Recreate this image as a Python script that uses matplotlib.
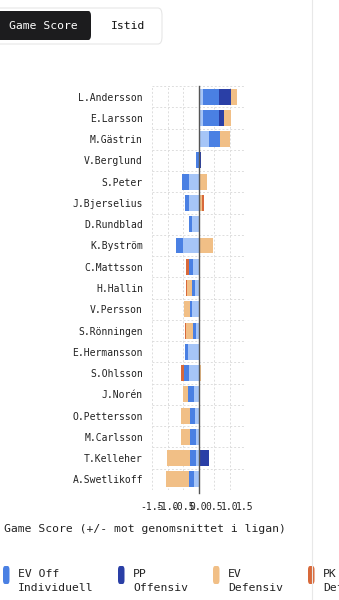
import numpy as np
import matplotlib.pyplot as plt
from matplotlib.patches import FancyBboxPatch

# players, top to bottom
players=["L.Andersson","E.Larsson","M.Gästrin","V.Berglund","S.Peter","J.Bjerselius",
         "D.Rundblad","K.Byström","C.Mattsson","H.Hallin","V.Persson","S.Rönningen",
         "E.Hermansson","S.Ohlsson","J.Norén","O.Pettersson","M.Carlsson","T.Kelleher",
         "A.Swetlikoff"]

# game score components (+/- vs league average)
ev_off_koll=[0.15,0.15,0.34,0.0,-0.30,-0.30,-0.22,-0.50,-0.17,-0.11,-0.20,-0.07,-0.33,-0.30,-0.16,-0.12,-0.07,-0.09,-0.15]
ev_off_ind=[0.51,0.51,0.36,-0.07,-0.24,-0.15,-0.10,-0.24,-0.15,-0.11,-0.09,-0.11,-0.11,-0.17,-0.17,-0.17,-0.22,-0.20,-0.15]
pp_off=[0.39,0.16,0.0,0.07,0.0,0.0,0.0,0.0,0.0,0.0,0.0,0.0,0.0,0.0,0.0,0.0,0.0,0.35,0.0]
ev_def=[0.20,0.22,0.33,0.0,0.29,0.11,0.02,0.46,0.0,-0.16,-0.17,-0.22,0.0,0.07,-0.18,-0.27,-0.28,-0.72,-0.76]
pk_def=[0.0,0.0,0.0,0.0,0.0,0.06,0.0,0.0,-0.09,-0.03,0.02,-0.02,0.0,-0.09,0.02,0.02,0.0,0.0,0.0]

series=[("EV Off Kollektiv",ev_off_koll,"#a6c5f7"),
        ("EV Off Individuell",ev_off_ind,"#4a80e3"),
        ("PP Offensiv",pp_off,"#2a3fa6"),
        ("EV Defensiv",ev_def,"#f1bf86"),
        ("PK Defensiv",pk_def,"#d8693a")]
legend_items=["EV Off\nIndividuell","PP\nOffensiv","EV\nDefensiv","PK\nDefensiv"]
legend_cols=["#4a80e3","#2a3fa6","#f1bf86","#d8693a"]
xticks=[-1.5,-1.0,-0.5,0.0,0.5,1.0,1.5]

W,H=339,600
mono="DejaVu Sans Mono"
plt.rcParams['font.family']=mono

fig=plt.figure(figsize=(W/100,H/100),dpi=100)
fx=lambda px:px/W
fy=lambda py:1-py/H

# toggle buttons on top
fig.patches.append(FancyBboxPatch((fx(-6),fy(44)),fx(168),(44-8)/H,boxstyle="round,pad=0,rounding_size=0.012",
                                  transform=fig.transFigure,fc="white",ec="#e6e6e6",lw=0.8))
fig.patches.append(FancyBboxPatch((fx(-4),fy(40)),fx(95),(40-11)/H,boxstyle="round,pad=0,rounding_size=0.008",
                                  transform=fig.transFigure,fc="#1c1c1e",ec="none"))
fig.text(fx(43),fy(26),"Game Score",color="white",fontsize=8.2,ha="center",va="center")
fig.text(fx(128),fy(26),"Istid",color="#111111",fontsize=8.2,ha="center",va="center")

# right panel border
fig.add_artist(plt.Line2D([fx(312),fx(312)],[0,1],transform=fig.transFigure,color="#e8e8e8",lw=0.8))

ax=fig.add_axes([fx(152),fy(490),fx(93),(490-86)/H])
n=len(players)
y=np.arange(n)
pos=np.zeros(n)
neg=np.zeros(n)
for name,vals,col in series:
    v=np.array(vals)
    left=np.where(v>=0,pos,neg)
    ax.barh(y,v,left=left,height=0.75,color=col,label=name,zorder=2)
    pos+=np.where(v>0,v,0)
    neg+=np.where(v<0,v,0)

ax.axvline(0,color="#555555",lw=1,zorder=3,ymin=-0.008,clip_on=False)
ax.set_xlim(-1.5,1.5)
ax.set_ylim(n-0.5,-0.5)
ax.set_xticks(xticks)
ax.set_xticklabels([f"{t:.1f}" for t in xticks],fontsize=7,color="#222222")
ax.set_yticks(y)
ax.set_yticklabels(players,fontsize=7,color="#222222")
ax.tick_params(length=0)
ax.tick_params(axis="y",pad=6.5)
ax.tick_params(axis="x",pad=9)
for t in xticks:
    ax.axvline(t,color="#dddddd",lw=0.7,ls=(0,(2,2)),zorder=0)
for b in np.arange(n+1)-0.5:
    ax.axhline(b,color="#dddddd",lw=0.7,ls=(0,(2,2)),zorder=0)
for s in ax.spines.values():
    s.set_visible(False)

fig.text(fx(4),fy(529),"Game Score (+/- mot genomsnittet i ligan)",fontsize=8.2,color="#222222",va="center",ha="left")

# legend
lx=[3,118,213,308]
for x0,lab,col in zip(lx,legend_items,legend_cols):
    fig.patches.append(FancyBboxPatch((fx(x0),fy(584)),fx(6.5),18/H,boxstyle="round,pad=0,rounding_size=0.006",
                                      transform=fig.transFigure,fc=col,ec="none"))
    fig.text(fx(x0+15),fy(581),lab,fontsize=8.2,color="#222222",va="center",ha="left",linespacing=1.6)

fig.savefig("out.png",dpi=100)
